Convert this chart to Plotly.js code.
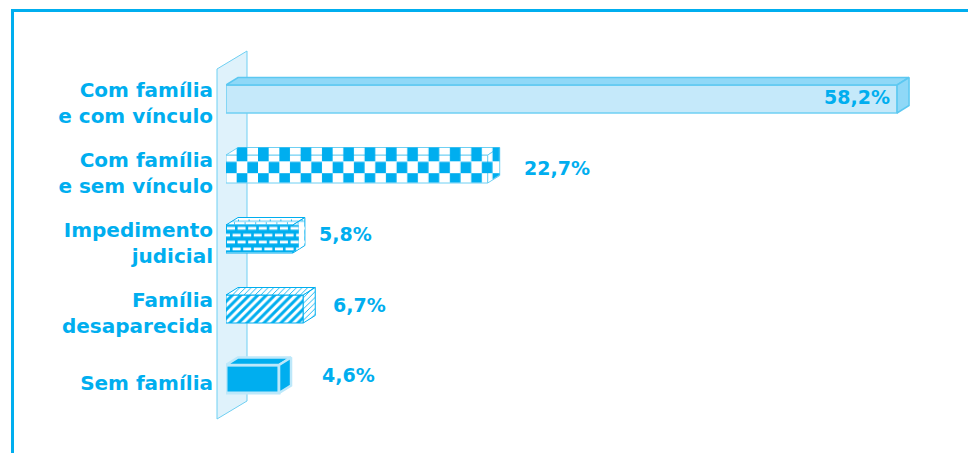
<!DOCTYPE html>
<html><head><meta charset="utf-8">
<script src="https://cdn.plot.ly/plotly-3.0.1.min.js"></script>
<style>html,body{margin:0;padding:0;background:#fff}#c{width:968px;height:453px}</style></head>
<body><div id="c"></div>
<script>
const categories = ["Com família<br>e com vínculo","Com família<br>e sem vínculo","Impedimento<br>judicial","Família<br>desaparecida","Sem família"];
const values = [58.2,22.7,5.8,6.7,4.6];
const valueLabels = ["58,2%","22,7%","5,8%","6,7%","4,6%"];

const W=968,H=453,L=226,R=4,T=30,B=13;
const pw=W-L-R, ph=H-T-B, pxPerX=11.53, pxPerY=70, yTopPx=99;
const xMax=pw/pxPerX, yA=-(yTopPx-T)/pxPerY, yB=(H-B-yTopPx)/pxPerY;
const barW=0.4, dxPx=12, dyPx=7.5, dx=dxPx/pxPerX, dy=dyPx/pxPerY;
const BLUE="#00AEEF", EDGE="#6FD0F3", PALE="#C5E9FA", MID="#8FD8F7";
const idx=categories.map((_,i)=>i);
const px=p=>(p-L)/pw, py=p=>1-(p-T)/ph;

function topFace(i){const v=values[i],t=i-barW/2;return {x:[0,dx,v+dx,v,0],y:[t,t-dy,t-dy,t,t]};}
function sideFace(i){const v=values[i],t=i-barW/2,b=i+barW/2;return {x:[v,v+dx,v+dx,v,v],y:[t,t-dy,b-dy,b,t]};}

const faceStyle=[
 {fill:MID,line:"#5CC8F1",w:1.5},
 {fill:"#ffffff",line:EDGE,w:1},
 {fill:"#ffffff",line:BLUE,w:1},
 {fill:"#ffffff",line:BLUE,w:1,pat:{shape:"/",size:4,solidity:0.22,fgcolor:BLUE,bgcolor:"#ffffff"}},
 {fill:BLUE,line:"#BDE8FA",w:2.5}
];
const traces=[];
idx.forEach(i=>{[topFace(i),sideFace(i)].forEach(f=>{
  const s=faceStyle[i];
  const t={type:"scatter",mode:"lines",x:f.x,y:f.y,fill:"toself",fillcolor:s.fill,
    line:{color:s.line,width:s.w},hoverinfo:"skip",showlegend:false};
  if(s.pat) t.fillpattern=s.pat;
  traces.push(t);
});});
const barStyle=[
 {color:PALE,line:{color:EDGE,width:1.5}},
 {color:"#ffffff",line:{color:EDGE,width:1}},
 {color:"#ffffff",line:{color:BLUE,width:1}},
 {color:BLUE,line:{color:BLUE,width:1},pattern:{shape:"/",size:6,solidity:0.5,fillmode:"replace",bgcolor:"#ffffff",fgcolor:BLUE,fgopacity:1}},
 {color:BLUE,line:{color:"#BDE8FA",width:3}}
];
idx.forEach(i=>traces.push({type:"bar",orientation:"h",x:[values[i]],y:[i],width:barW,showlegend:false,
  marker:barStyle[i],hovertemplate:"%{x}%<extra></extra>"}));

function canvasFor(i,paint){
  const wid=values[i]*pxPerX+dxPx, hei=barW*pxPerY+dyPx, front=values[i]*pxPerX;
  const c=document.createElement("canvas");c.width=Math.round(wid);c.height=Math.round(hei);
  const g=c.getContext("2d");
  g.beginPath();g.moveTo(0,dyPx);g.lineTo(dxPx,0);g.lineTo(wid,0);g.lineTo(wid,hei-dyPx);g.lineTo(front,hei);g.lineTo(0,hei);g.closePath();g.clip();
  g.fillStyle=BLUE;paint(g,wid,hei,front);
  return {source:c.toDataURL(),xref:"x",yref:"y",x:0,y:i-barW/2-dy,sizex:values[i]+dx,sizey:barW+dy,
    xanchor:"left",yanchor:"top",sizing:"stretch",layer:"above"};
}
const checker=canvasFor(1,(g,w,h)=>{
  const cell=10.67, rows=[[0,14,1],[14.5,11.5,0],[26,10,1]];
  rows.forEach(r=>{for(let k=r[2];k*cell<w;k+=2){g.fillRect(k*cell,r[0],cell,r[1]);}});
});
const brick=canvasFor(2,(g,w,h,front)=>{
  g.fillRect(0,dyPx,front+6,h-dyPx);
  g.fillStyle="#ffffff";
  const rowH=7;
  for(let r=0;dyPx+r*rowH<h;r++){
    const off=(r%2)?-5:0;
    for(let x=off;x<w;x+=10.6){g.fillRect(x+1,dyPx+r*rowH+2,8,2.8);}
  }
  g.fillStyle=BLUE;
  for(let x=dxPx;x<w;x+=10.6){g.fillRect(x,2,1,1.5);g.fillRect(x-4,5,1,1.5);}
  g.fillRect(0,3.5,w,0.7);
});

const lab=[[-40,2],[69,1],[53,5],[56,4],[69,4]];
const annotations=idx.map(i=>({x:values[i],y:i,xref:"x",yref:"y",text:valueLabels[i],showarrow:false,
  xanchor:"center",yanchor:"middle",xshift:lab[i][0],yshift:lab[i][1],
  font:{family:"DejaVu Sans",size:19,color:BLUE,weight:700}}));

const panel=`M${px(217)},${py(69)} L${px(247)},${py(51)} L${px(247)},${py(401)} L${px(217)},${py(419)} Z`;
const layout={width:W,height:H,margin:{l:L,r:R,t:T,b:B,pad:0},paper_bgcolor:"#fff",plot_bgcolor:"rgba(0,0,0,0)",
  barmode:"overlay",showlegend:false,
  xaxis:{range:[0,xMax],visible:false,fixedrange:true},
  yaxis:{range:[yB,yA],tickmode:"array",tickvals:idx,ticktext:categories,showgrid:false,zeroline:false,showline:false,
    ticks:"",ticklabelstandoff:12,ticklabelshift:-4,automargin:false,fixedrange:true,
    tickfont:{family:"DejaVu Sans",size:20,color:BLUE,weight:700}},
  images:[checker,brick],annotations,
  shapes:[
   {type:"path",path:panel,xref:"paper",yref:"paper",fillcolor:"#DFF2FB",line:{color:EDGE,width:1},layer:"below"},
   {type:"line",xref:"paper",yref:"paper",x0:px(12.5),x1:px(968),y0:py(10.5),y1:py(10.5),line:{color:BLUE,width:3}},
   {type:"line",xref:"paper",yref:"paper",x0:px(12.5),x1:px(12.5),y0:py(9),y1:py(453),line:{color:BLUE,width:3}}
  ]};
Plotly.newPlot("c",traces,layout,{displayModeBar:false,staticPlot:true});
</script></body></html>
